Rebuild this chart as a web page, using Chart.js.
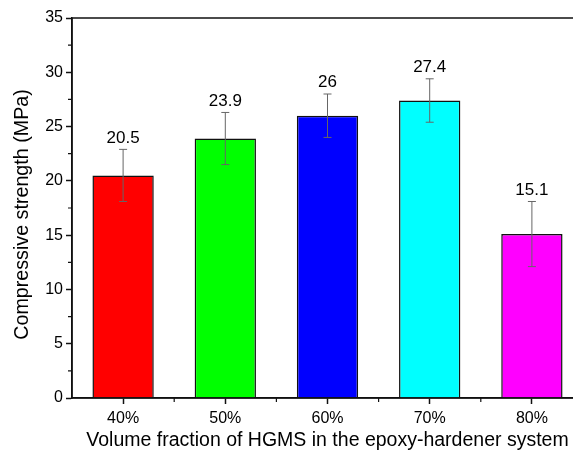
<!DOCTYPE html>
<html>
<head>
<meta charset="utf-8">
<script src="https://cdn.jsdelivr.net/npm/chart.js@4/dist/chart.umd.min.js"></script>
<style>
  html, body { margin: 0; padding: 0; background: #fff; overflow: hidden; }
  #wrap { width: 586px; height: 456px; }
</style>
</head>
<body>
<div id="wrap"><canvas id="barChart" width="586" height="456"></canvas></div>
<script>
// values
var categories = ["40%", "50%", "60%", "70%", "80%"];
var strength = [20.5, 23.9, 26, 27.4, 15.1];
var errors = [2.4, 2.4, 2.0, 2.0, 3.0];
var barColors = ["#ff0000", "#00ff00", "#0000ff", "#00ffff", "#ff00ff"];
var yTicks = [0, 5, 10, 15, 20, 25, 30, 35];

var FONT = "'Liberation Sans', Arial, sans-serif";
var Y_TITLE = 'Compressive strength (MPa)';

// error bars, value labels, frame, minor ticks, y title
var extras = {
  id: 'extras',
  afterDatasetsDraw: function(chart) {
    var ctx = chart.ctx;
    var x = chart.scales.x, y = chart.scales.y;
    var area = chart.chartArea;
    ctx.save();
    ctx.strokeStyle = '#666';
    ctx.lineWidth = 1;
    strength.forEach(function(v, i) {
      var cx = x.getPixelForValue(i);
      var top = y.getPixelForValue(v + errors[i]);
      var bot = y.getPixelForValue(v - errors[i]);
      ctx.beginPath();
      ctx.moveTo(cx, top); ctx.lineTo(cx, bot);
      ctx.moveTo(cx - 4, top); ctx.lineTo(cx + 4, top);
      ctx.moveTo(cx - 4, bot); ctx.lineTo(cx + 4, bot);
      ctx.stroke();
      ctx.fillStyle = '#000';
      ctx.font = '17px ' + FONT;
      ctx.textAlign = 'center';
      ctx.textBaseline = 'bottom';
      ctx.fillText(String(v), cx, top - 3);
    });
    ctx.strokeStyle = '#111';
    ctx.lineWidth = 1.5;
    ctx.strokeRect(area.left, area.top, area.right - area.left, area.bottom - area.top);
    // minor ticks
    ctx.lineWidth = 1.2;
    ctx.beginPath();
    for (var t = 2.5; t < 35; t += 5) {
      var py = y.getPixelForValue(t);
      ctx.moveTo(area.left, py); ctx.lineTo(area.left - 4, py);
    }
    for (var k = 0; k < categories.length; k++) {
      var px = (x.getPixelForValue(k) + x.getPixelForValue(k + 1)) / 2;
      ctx.moveTo(px, area.bottom); ctx.lineTo(px, area.bottom + 4);
    }
    ctx.stroke();
    // y title
    ctx.translate(23, 214.5);
    ctx.rotate(-Math.PI / 2);
    ctx.fillStyle = '#000';
    ctx.font = '19.7px ' + FONT;
    ctx.textAlign = 'center';
    ctx.textBaseline = 'middle';
    ctx.fillText(Y_TITLE, 0, 0);
    ctx.restore();
  }
};

var ctxB = document.getElementById("barChart").getContext('2d');
var myBarChart = new Chart(ctxB, {
  type: 'bar',
  data: {
    labels: categories,
    datasets: [{
      data: strength,
      backgroundColor: barColors,
      borderColor: '#111',
      borderWidth: 1.5,
      barPercentage: 0.6,
      categoryPercentage: 1
    }]
  },
  options: {
    responsive: false,
    animation: false,
    layout: { padding: { top: 18, right: 3, left: 0, bottom: 0 } },
    plugins: { legend: { display: false }, tooltip: { enabled: false } },
    scales: {
      x: {
        grid: { drawOnChartArea: false, offset: false, tickLength: 6, color: '#111', tickWidth: 1.5 },
        border: { color: '#111', width: 1.5 },
        ticks: { color: '#000', font: { family: FONT, size: 16 }, padding: 5 },
        title: { display: true, text: 'Volume fraction of HGMS in the epoxy-hardener system', color: '#000', font: { family: FONT, size: 19.5 }, padding: { top: 8 } },
        afterFit: function(s) { s.height = 58; }
      },
      y: {
        min: 0, max: 35,
        afterBuildTicks: function(s) { s.ticks = yTicks.map(function(v) { return { value: v }; }); },
        grid: { drawOnChartArea: false, tickLength: 6, color: '#111', tickWidth: 1.5 },
        border: { color: '#111', width: 1.5 },
        ticks: { color: '#000', font: { family: FONT, size: 16 }, padding: 3 },
        afterFit: function(s) { s.width = 72; }
      }
    }
  },
  plugins: [extras]
});
</script>
</body>
</html>
